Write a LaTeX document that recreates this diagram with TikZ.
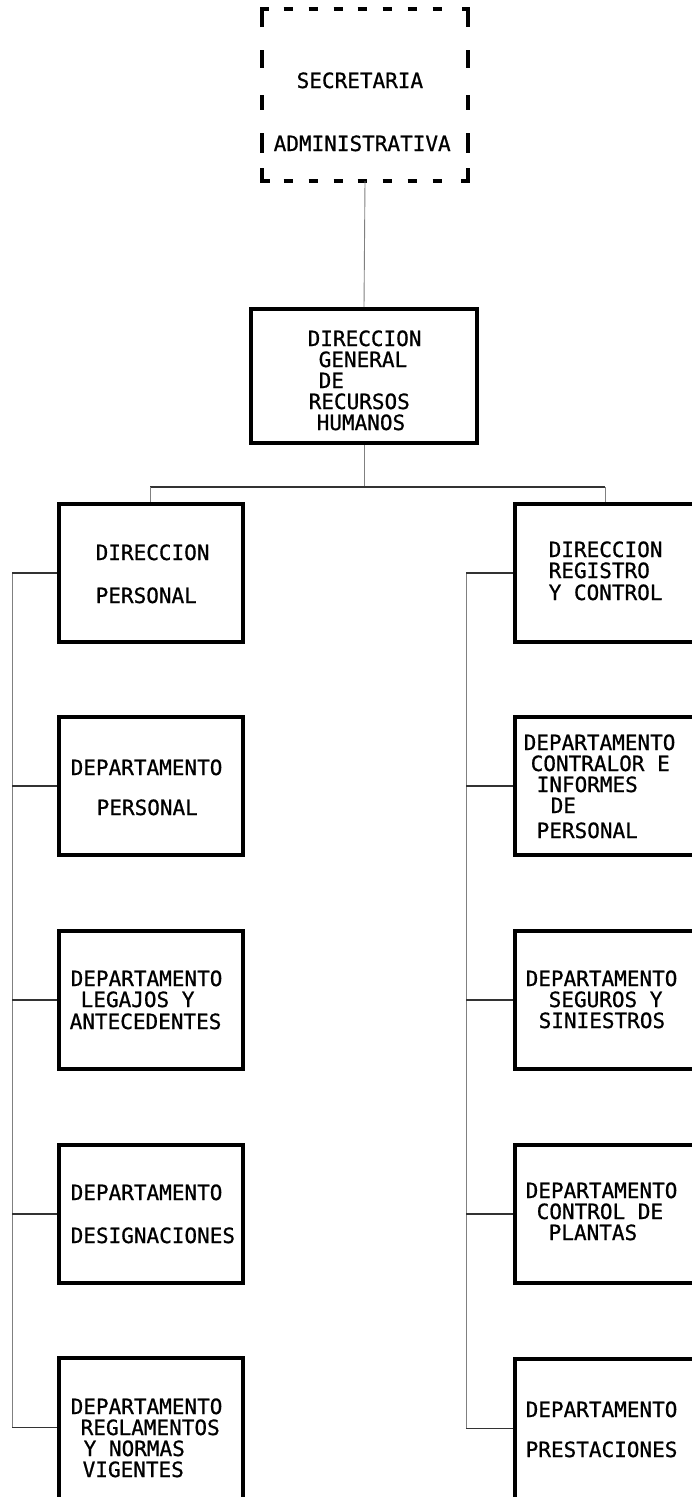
\documentclass[tikz,border=0pt]{standalone}
\usepackage{fontspec}
\newfontfamily\dm[FakeBold=0.8]{DejaVu Sans Mono}
\newcommand{\tl}[4]{\node[txt] (#1) at (#2-1.5,#3) {#4};}
\begin{document}
\begin{tikzpicture}[x=1pt,y=-1pt,
  box/.style={draw, line width=3.6pt, rectangle, inner sep=0pt},
  txt/.style={font=\dm\fontsize{21}{20}\selectfont, anchor=base west, inner sep=0pt},
  conn/.style={line width=1.2pt, black!80},
  spine/.style={line width=0.9pt, black!50},
  dsh/.style={line width=4.2pt, line cap=butt, black}
]
\useasboundingbox (0,0) rectangle (692,1497);
\clip (0,0) rectangle (692,1497);
\fill[white] (0,0) rectangle (692,1497);

% Secretaria (dashed box)
\node[minimum width=206pt, minimum height=172pt, inner sep=0pt] (sec) at (365,95) {};
\draw[dsh] (262,27) -- (262,9) -- (269,9);
\draw[dsh] (462,9) -- (468,9) -- (468,27);
\draw[dsh] (262,168) -- (262,181) -- (270,181);
\draw[dsh] (461,181) -- (468,181) -- (468,168);
\foreach \x in {288,313,338,362,387,412,437} {
  \draw[dsh] (\x-4.5,9) -- (\x+4.5,9);
  \draw[dsh] (\x-4.5,181) -- (\x+4.5,181);
}
\foreach \a/\b in {50/68,95/110,133/153} {
  \draw[dsh] (262,\a) -- (262,\b);
  \draw[dsh] (468,\a) -- (468,\b);
}
\tl{s1}{298}{88}{SECRETARIA}
\tl{s2}{275}{151}{ADMINISTRATIVA}

% Direccion General
\node[box, minimum width=226pt, minimum height=134pt] (dg) at (364,376) {};
\tl{g1}{309}{346}{DIRECCION}
\tl{g2}{320}{367}{GENERAL}
\tl{g3}{320}{388}{DE}
\tl{g4}{310}{409}{RECURSOS}
\tl{g5}{318}{430}{HUMANOS}

% Left column
\node[box, minimum width=184pt, minimum height=138pt] (L1) at (151,573) {};
\node[box, minimum width=184pt, minimum height=138pt] (L2) at (151,786) {};
\node[box, minimum width=184pt, minimum height=138pt] (L3) at (151,1000) {};
\node[box, minimum width=184pt, minimum height=138pt] (L4) at (151,1214) {};
\node[box, minimum width=184pt, minimum height=190pt] (L5) at (151,1453) {};

% Right column
\node[box, minimum width=204pt, minimum height=138pt] (R1) at (617,573) {};
\node[box, minimum width=204pt, minimum height=138pt] (R2) at (617,786) {};
\node[box, minimum width=204pt, minimum height=138pt] (R3) at (617,1000) {};
\node[box, minimum width=204pt, minimum height=138pt] (R4) at (617,1214) {};
\node[box, minimum width=204pt, minimum height=190pt] (R5) at (617,1454) {};

% Texts left
\tl{a1}{97}{560}{DIRECCION}
\tl{a2}{97}{603}{PERSONAL}
\tl{b1}{72}{775}{DEPARTAMENTO}
\tl{b2}{98}{815}{PERSONAL}
\tl{c1}{72}{986}{DEPARTAMENTO}
\tl{c2}{82}{1007}{LEGAJOS Y}
\tl{c3}{71}{1029}{ANTECEDENTES}
\tl{d1}{72}{1200}{DEPARTAMENTO}
\tl{d2}{72}{1243}{DESIGNACIONES}
\tl{e1}{72}{1414}{DEPARTAMENTO}
\tl{e2}{82}{1435}{REGLAMENTOS}
\tl{e3}{85}{1456}{Y NORMAS}
\tl{e4}{84}{1477}{VIGENTES}

% Texts right
\tl{f1}{550}{557}{DIRECCION}
\tl{f2}{550}{578}{REGISTRO}
\tl{f3}{550}{600}{Y CONTROL}
\tl{h1}{525}{750}{DEPARTAMENTO}
\tl{h2}{532}{771}{CONTRALOR E}
\tl{h3}{538}{792}{INFORMES}
\tl{h4}{552}{813}{DE}
\tl{h5}{538}{838}{PERSONAL}
\tl{i1}{527}{986}{DEPARTAMENTO}
\tl{i2}{550}{1007}{SEGUROS Y}
\tl{i3}{540}{1028}{SINIESTROS}
\tl{j1}{527}{1198}{DEPARTAMENTO}
\tl{j2}{538}{1219}{CONTROL DE}
\tl{j3}{550}{1240}{PLANTAS}
\tl{k1}{527}{1417}{DEPARTAMENTO}
\tl{k2}{527}{1457}{PRESTACIONES}

% Connectors
\coordinate (busL) at (150,487);
\coordinate (busR) at (605,487);
\coordinate (ls) at (12,0);
\coordinate (rs) at (466,0);
\coordinate (L5s) at ([yshift=-71pt]L5.north west);
\coordinate (R5s) at ([yshift=-71pt]R5.north west);

\draw[spine] (sec.south) -- (dg.north);
\draw[spine] (dg.south) -- (dg.south |- busL);
\draw[conn] (busL) -- (busR);
\draw[spine] (busL) -- (busL |- L1.north);
\draw[spine] (busR) -- (busR |- R1.north);

\draw[spine] (L1.west -| ls) -- (L5s -| ls);
\draw[spine] (R1.west -| rs) -- (R5s -| rs);
\foreach \n in {L1,L2,L3,L4} { \draw[conn] (\n.west) -- (\n.west -| ls); }
\draw[conn] (L5s) -- (L5s -| ls);
\foreach \n in {R1,R2,R3,R4} { \draw[conn] (\n.west) -- (\n.west -| rs); }
\draw[conn] (R5s) -- (R5s -| rs);
\end{tikzpicture}
\end{document}
